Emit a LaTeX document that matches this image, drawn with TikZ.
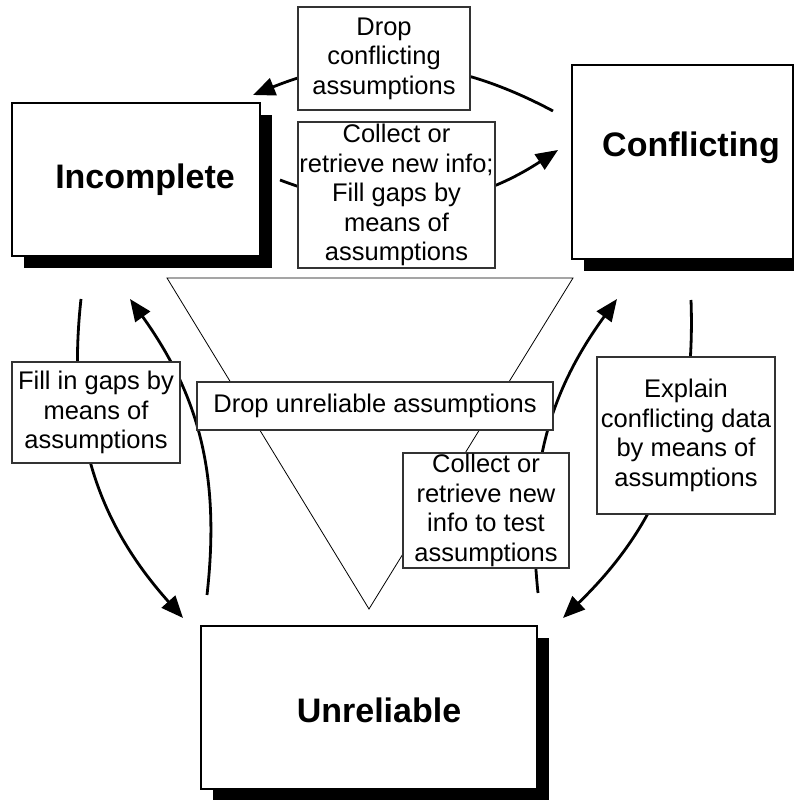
\documentclass[tikz,border=0pt]{standalone}
\usepackage{fontspec}
\setmainfont{Liberation Sans}
\usetikzlibrary{arrows.meta,shadows}

\begin{document}
\begin{tikzpicture}[x=1pt,y=1pt,
  state/.style={draw,line width=2.6pt,fill=white,
    drop shadow={shadow xshift=12pt,shadow yshift=-12pt,fill=black,opacity=1}},
  title/.style={font=\bfseries\fontsize{34}{40}\selectfont},
  lab/.style={draw=black!80,line width=1.1pt,fill=white,align=center,
    inner sep=0pt,font=\fontsize{25.5}{29.5}\selectfont},
  arr/.style={line width=2.8pt,-{Triangle[length=22pt,width=18pt]}}]
\useasboundingbox (0,0) rectangle (794,800);
% the three states
\node[state,minimum width=248pt,minimum height=153pt] (inc) at (136,620.5) {};
\node[state,minimum width=221pt,minimum height=194pt] (con) at (682.5,638) {};
\node[state,minimum width=336pt,minimum height=163pt] (unr) at (369,92.5) {};
\node[title] (inc-t) at (145,620) {Incomplete};
\node[title] (con-t) at (691,652) {Conflicting};
\node[title] (unr-t) at (379,90) {Unreliable};
% funnel
\coordinate (f1) at (167,522);
\coordinate (f2) at (573,522);
\coordinate (f3) at (369,191);
\draw[line width=0.8pt] (f1) -- (f2) -- (f3) -- cycle;
% ends of the transitions
\coordinate (c1) at (553,689);  \coordinate (i1) at (253,705);
\coordinate (i2) at (280,620);  \coordinate (c2) at (558,650);
\coordinate (i3) at (81,501);   \coordinate (u3) at (183,182);
\coordinate (u4) at (207,205);  \coordinate (i4) at (130,501);
\coordinate (u5) at (538,207);  \coordinate (c5) at (617,501);
\coordinate (c6) at (691,500);  \coordinate (u6) at (563,182);
\draw[arr] (c1) to[bend right=25] (i1);
\draw[arr] (i2) to[bend right=27] (c2);
\draw[arr] (i3) to[bend right=24] (u3);
\draw[arr] (u4) to[bend right=21] (i4);
\draw[arr] (u5) to[bend left=21] (c5);
\draw[arr] (c6) to[bend left=24] (u6);
% labels
\node[lab,minimum width=172pt,minimum height=103pt] (dropc) at (384,741.5)
  {Drop\\conflicting\\assumptions};
\node[lab,minimum width=197pt,minimum height=146pt] (coll1) at (396.5,605)
  {Collect or\\retrieve new info;\\Fill gaps by\\means of\\assumptions};
\node[lab,minimum width=356pt,minimum height=48pt] (dropu) at (375,394)
  {Drop unreliable assumptions};
\node[lab,minimum width=168pt,minimum height=101pt] (fill) at (96,387.5)
  {Fill in gaps by\\means of\\assumptions};
\node[lab,minimum width=178pt,minimum height=157pt] (expl) at (686,364.5)
  {Explain\\conflicting data\\by means of\\assumptions};
\node[lab,minimum width=166pt,minimum height=115pt] (coll2) at (486,289.5)
  {Collect or\\retrieve new\\info to test\\assumptions};
\end{tikzpicture}
\end{document}
